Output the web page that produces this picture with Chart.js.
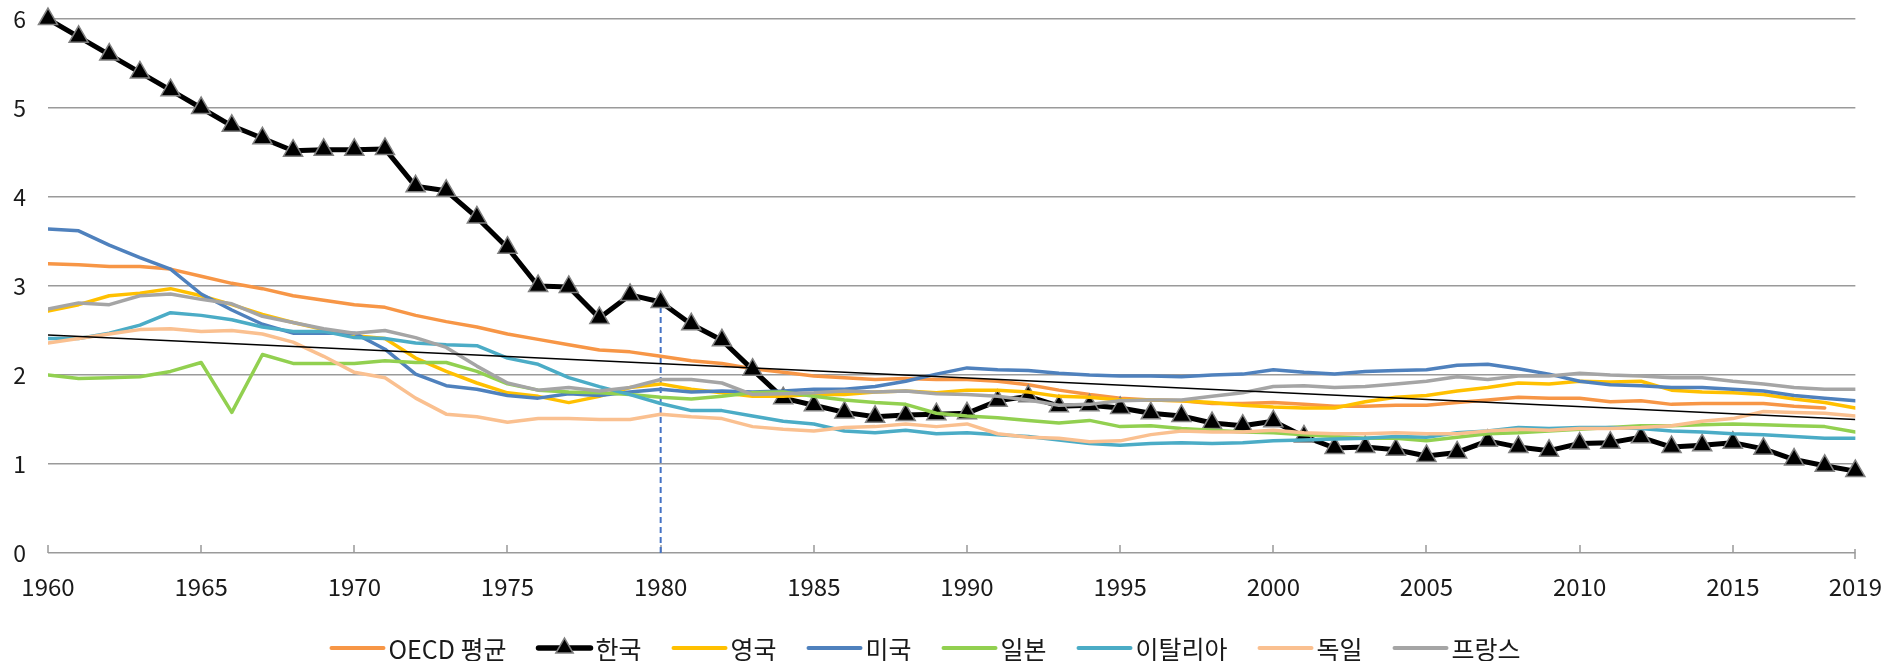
<!DOCTYPE html>
<html><head><meta charset="utf-8">
<script src="https://cdn.jsdelivr.net/npm/chart.js@4.4.1/dist/chart.umd.min.js"></script>
<style>html,body{margin:0;padding:0;background:#fff;}#wrap{width:1893px;height:661px;}</style>
</head><body><div id="wrap"><canvas id="c" width="1893" height="661"></canvas></div>
<script>
// ---- data ----
const years = [1960,1961,1962,1963,1964,1965,1966,1967,1968,1969,
  1970,1971,1972,1973,1974,1975,1976,1977,1978,1979,
  1980,1981,1982,1983,1984,1985,1986,1987,1988,1989,
  1990,1991,1992,1993,1994,1995,1996,1997,1998,1999,
  2000,2001,2002,2003,2004,2005,2006,2007,2008,2009,
  2010,2011,2012,2013,2014,2015,2016,2017,2018,2019];
const tickYears = [1960,1965,1970,1975,1980,1985,1990,1995,2000,2005,2010,2015,2019];
const yTicks = [0,1,2,3,4,5,6];

const oecd = [3.25,3.24,3.22,3.22,3.19,3.11,3.03,2.97,2.89,2.84, 2.79,2.76,2.67,2.60,2.54,2.46,2.40,2.34,2.28,2.26,
  2.21,2.16,2.13,2.07,2.03,1.99,1.97,1.95,1.96,1.95, 1.95,1.93,1.89,1.83,1.78,1.74,1.72,1.71,1.68,1.68,
  1.69,1.67,1.65,1.65,1.66,1.66,1.69,1.72,1.75,1.74, 1.74,1.70,1.71,1.67,1.68,1.68,1.68,1.65,1.63,null];
const korea = [6.00,5.80,5.60,5.40,5.20,5.00,4.80,4.66,4.52,4.53, 4.53,4.54,4.12,4.07,3.77,3.43,3.00,2.99,2.64,2.90,
  2.82,2.57,2.39,2.06,1.74,1.66,1.58,1.53,1.55,1.56, 1.57,1.71,1.76,1.65,1.66,1.63,1.57,1.54,1.46,1.43,
  1.48,1.31,1.18,1.19,1.16,1.09,1.13,1.26,1.19,1.15, 1.23,1.24,1.30,1.19,1.21,1.24,1.17,1.05,0.98,0.92];
const uk = [2.72,2.79,2.89,2.92,2.97,2.89,2.79,2.68,2.59,2.51, 2.44,2.41,2.19,2.04,1.91,1.80,1.76,1.69,1.76,1.86,
  1.90,1.84,1.80,1.76,1.76,1.78,1.78,1.81,1.82,1.80, 1.83,1.83,1.81,1.76,1.75,1.72,1.72,1.71,1.69,1.66,
  1.64,1.63,1.63,1.70,1.75,1.77,1.82,1.86,1.91,1.90, 1.93,1.92,1.93,1.83,1.81,1.80,1.78,1.73,1.69,1.63];
const us = [3.64,3.62,3.46,3.32,3.19,2.91,2.73,2.57,2.47,2.47, 2.47,2.29,2.01,1.88,1.84,1.77,1.74,1.79,1.77,1.81,
  1.84,1.81,1.82,1.81,1.82,1.84,1.84,1.87,1.93,2.01, 2.08,2.06,2.05,2.02,2.00,1.99,1.99,1.98,2.00,2.01,
  2.06,2.03,2.01,2.04,2.05,2.06,2.11,2.12,2.07,2.01, 1.93,1.89,1.88,1.86,1.86,1.84,1.82,1.77,1.74,1.71];
const japan = [2.00,1.96,1.97,1.98,2.04,2.14,1.58,2.23,2.13,2.13, 2.13,2.16,2.14,2.14,2.04,1.90,1.83,1.81,1.80,1.78,
  1.75,1.73,1.76,1.80,1.81,1.76,1.72,1.69,1.67,1.57, 1.54,1.52,1.49,1.46,1.49,1.42,1.43,1.40,1.38,1.36,
  1.35,1.33,1.31,1.29,1.29,1.26,1.30,1.34,1.35,1.37, 1.39,1.41,1.43,1.43,1.44,1.45,1.44,1.43,1.42,1.36];
const italy = [2.41,2.41,2.47,2.56,2.70,2.67,2.62,2.54,2.49,2.49, 2.42,2.41,2.36,2.34,2.33,2.19,2.12,1.97,1.87,1.78,
  1.68,1.60,1.60,1.54,1.48,1.45,1.37,1.35,1.38,1.34, 1.35,1.33,1.31,1.27,1.23,1.21,1.23,1.24,1.23,1.24,
  1.26,1.27,1.28,1.29,1.31,1.30,1.35,1.37,1.41,1.40, 1.41,1.41,1.40,1.37,1.36,1.34,1.33,1.31,1.29,1.29];
const germany = [2.36,2.41,2.46,2.51,2.52,2.49,2.50,2.46,2.37,2.21, 2.03,1.97,1.74,1.56,1.53,1.47,1.51,1.51,1.50,1.50,
  1.56,1.53,1.51,1.42,1.39,1.37,1.41,1.42,1.45,1.42, 1.45,1.34,1.30,1.29,1.25,1.26,1.33,1.37,1.36,1.36,
  1.38,1.35,1.34,1.34,1.35,1.34,1.34,1.37,1.39,1.38, 1.40,1.40,1.41,1.43,1.48,1.51,1.59,1.58,1.57,1.54];
const france = [2.74,2.81,2.79,2.89,2.91,2.85,2.80,2.66,2.59,2.52, 2.47,2.50,2.42,2.31,2.10,1.91,1.83,1.86,1.82,1.86,
  1.95,1.95,1.91,1.78,1.79,1.80,1.82,1.81,1.82,1.79, 1.78,1.76,1.72,1.66,1.67,1.71,1.72,1.72,1.76,1.80,
  1.87,1.88,1.86,1.87,1.90,1.93,1.98,1.95,1.99,1.99, 2.02,2.00,1.99,1.97,1.97,1.93,1.90,1.86,1.84,1.84];
const trendYears = [1960, 2019];
const trendValues = [2.45, 1.50];
const markerYear = 1980;

// ---- chart ----
const FONT = '"Noto Sans CJK KR", "Noto Sans", sans-serif';
Chart.defaults.font.family = FONT;
Chart.defaults.color = '#1a1a1a';

const pts = arr => years.map((yr, i) => ({x: yr, y: arr[i]}));
const koreaAtMarker = korea[years.indexOf(markerYear)];

function lineDs(label, arr, color, order, width) {
  return {label, data: pts(arr), borderColor: color, backgroundColor: color, borderWidth: width || 3.5,
    pointRadius: 0, tension: 0, order, legendName: true, borderCapStyle: 'round', borderJoinStyle: 'round'};
}

const datasets = [
  {label: 'marker', data: [{x: markerYear, y: 0}, {x: markerYear, y: koreaAtMarker}], borderColor: '#4472C4',
   borderWidth: 2, borderDash: [6, 4], pointRadius: 0, order: 20},
  lineDs('OECD 평균', oecd, '#F79646', 9),
  Object.assign(lineDs('한국', korea, '#000000', 8, 5), {pointRadius: 11, pointStyle: 'triangle',
    pointBackgroundColor: '#000000', pointBorderColor: '#808080', pointBorderWidth: 1.5, clip: false}),
  lineDs('영국', uk, '#FFC000', 7),
  lineDs('미국', us, '#4F81BD', 6),
  lineDs('일본', japan, '#92D050', 5),
  lineDs('이탈리아', italy, '#4BACC6', 4),
  lineDs('독일', germany, '#FAC090', 3),
  lineDs('프랑스', france, '#A5A5A5', 2),
  {label: 'trend', data: trendYears.map((yr, i) => ({x: yr, y: trendValues[i]})), borderColor: '#000000',
   borderWidth: 1.5, pointRadius: 0, order: 1}
];

const innerTicks = {
  id: 'innerTicks',
  beforeDatasetsDraw(chart) {
    const xs = chart.scales.x, ys = chart.scales.y, ctx = chart.ctx;
    const y0 = ys.getPixelForValue(0);
    ctx.save();
    ctx.strokeStyle = '#999999'; ctx.lineWidth = 1.5;
    xs.ticks.forEach((t, i) => {
      const px = Math.round(xs.getPixelForValue(t.value));
      const last = i === xs.ticks.length - 1;
      ctx.beginPath();
      ctx.moveTo(px, last ? y0 - 4 : y0 - 8);
      ctx.lineTo(px, last ? y0 + 6 : y0);
      ctx.stroke();
    });
    ctx.restore();
  }
};

const LEGEND_CENTER_X = 926, LEGEND_Y = 648;
const bottomLegend = {
  id: 'bottomLegend',
  afterDraw(chart) {
    const ctx = chart.ctx;
    const items = chart.data.datasets.filter(d => d.legendName)
      .sort((a, b) => b.order - a.order);
    ctx.save();
    ctx.font = '25px ' + FONT;
    const lineLen = 52, gap = 5, itemGap = 32;
    const widths = items.map(d => ctx.measureText(d.label).width);
    const total = widths.reduce((a, w) => a + lineLen + gap + w, 0) + itemGap * (items.length - 1);
    let x = LEGEND_CENTER_X - total / 2;
    const y = LEGEND_Y;
    items.forEach((d, i) => {
      ctx.strokeStyle = d.borderColor; ctx.lineWidth = d.borderWidth + 0.5; ctx.lineCap = 'round';
      ctx.beginPath(); ctx.moveTo(x, y); ctx.lineTo(x + lineLen, y); ctx.stroke();
      if (d.pointRadius > 0) {
        const r = 10, cx = x + lineLen / 2;
        ctx.beginPath();
        ctx.moveTo(cx, y - r);
        ctx.lineTo(cx + r * Math.sqrt(3) / 2, y + r / 2);
        ctx.lineTo(cx - r * Math.sqrt(3) / 2, y + r / 2);
        ctx.closePath();
        ctx.fillStyle = d.pointBackgroundColor; ctx.fill();
        ctx.lineWidth = d.pointBorderWidth; ctx.strokeStyle = d.pointBorderColor; ctx.stroke();
      }
      ctx.fillStyle = '#1a1a1a'; ctx.textBaseline = 'middle'; ctx.textAlign = 'left';
      ctx.fillText(d.label, x + lineLen + gap, y + 1);
      x += lineLen + gap + widths[i] + itemGap;
    });
    ctx.restore();
  }
};

new Chart(document.getElementById('c'), {
  type: 'line',
  data: {datasets},
  plugins: [innerTicks, bottomLegend],
  options: {
    responsive: false, animation: false, devicePixelRatio: 1,
    layout: {padding: {left: 0, right: 28, top: 19, bottom: 58}},
    plugins: {legend: {display: false}, tooltip: {enabled: false}},
    scales: {
      x: {
        type: 'linear', min: years[0], max: years[years.length - 1],
        afterBuildTicks: s => { s.ticks = tickYears.map(v => ({value: v})); },
        afterFit: s => { s.height = 50; },
        grid: {display: false}, border: {display: false},
        ticks: {padding: 11, maxRotation: 0, autoSkip: false, font: {size: 24}, color: '#1a1a1a',
          callback: v => String(v)}
      },
      y: {
        min: 0, max: 6,
        afterBuildTicks: s => { s.ticks = yTicks.map(v => ({value: v})); },
        afterFit: s => { s.width = 48; s.paddingTop = 0; s.paddingBottom = 0; },
        grid: {color: '#9a9a9a', lineWidth: 1.5, drawTicks: false},
        border: {display: false},
        ticks: {padding: 22, font: {size: 23}, color: '#1a1a1a'}
      }
    }
  }
});
</script></body></html>
